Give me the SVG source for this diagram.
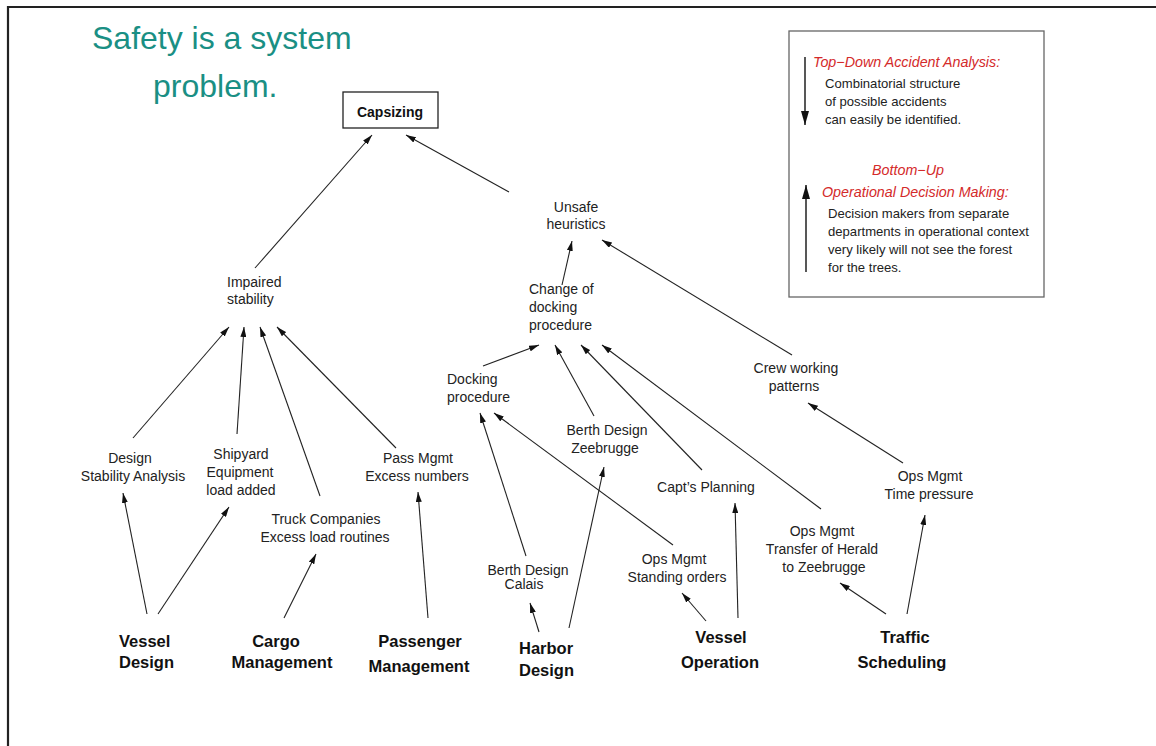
<svg xmlns="http://www.w3.org/2000/svg" width="1156" height="746" viewBox="0 0 1156 746">
<style>
.t{font-family:"Liberation Sans",Arial,sans-serif;font-size:14px;fill:#222}
.l{font-family:"Liberation Sans",Arial,sans-serif;font-size:13.1px;fill:#222}
.b{font-family:"Liberation Sans",Arial,sans-serif;font-size:16.5px;font-weight:bold;fill:#111}
.r{font-family:"Liberation Sans",Arial,sans-serif;font-size:14.3px;font-style:italic;fill:#d42a2a}
.c{text-anchor:middle}
.e{stroke:#222;stroke-width:1.1;fill:none;marker-end:url(#ah)}
.le{stroke:#111;stroke-width:1.4;fill:none;marker-end:url(#bh)}
</style>
<defs>
<marker id="ah" viewBox="0 0 10 6" refX="10" refY="3" markerWidth="10" markerHeight="6" orient="auto" markerUnits="userSpaceOnUse"><path d="M0,0 L10,3 L0,6 z" fill="#111"/></marker>
<marker id="bh" viewBox="0 0 14 8" refX="14" refY="4" markerWidth="14" markerHeight="8" orient="auto" markerUnits="userSpaceOnUse"><path d="M0,0 L14,4 L0,8 z" fill="#111"/></marker>
</defs>
<rect width="1156" height="746" fill="#fff"/>
<path d="M8,746 L8,7 L1156,7" stroke="#222" stroke-width="2.2" fill="none"/>
<g id="title" font-family="'Liberation Sans',Arial,sans-serif" font-size="32" fill="#1a8f84">
<text x="92" y="49">Safety is a system</text>
<text x="153" y="97">problem.</text>
</g>
<g id="legend">
<rect x="789" y="31" width="255" height="266" fill="none" stroke="#666" stroke-width="1.3"/>
<line class="le" x1="805" y1="57" x2="805" y2="125"/>
<text class="r" x="813" y="67">Top−Down Accident Analysis:</text>
<text class="l" x="825" y="88">Combinatorial structure</text>
<text class="l" x="825" y="106">of possible accidents</text>
<text class="l" x="825" y="124">can easily be identified.</text>
<line class="le" x1="806" y1="272" x2="806" y2="185"/>
<text class="r c" x="908" y="175">Bottom−Up</text>
<text class="r" x="822" y="197">Operational Decision Making:</text>
<text class="l" x="828" y="218">Decision makers from separate</text>
<text class="l" x="828" y="236">departments in operational context</text>
<text class="l" x="828" y="254">very likely will not see the forest</text>
<text class="l" x="828" y="272">for the trees.</text>
</g>
<g id="capsizing">
<rect x="343" y="92" width="95" height="36" fill="#fff" stroke="#222" stroke-width="1.3"/>
<text class="b c" x="390" y="117" style="font-size:14px">Capsizing</text>
</g>
<g id="unsafe"><text class="t c" x="576" y="212">Unsafe</text><text class="t c" x="576" y="229">heuristics</text></g>
<g id="impaired"><text class="t" x="227" y="287">Impaired</text><text class="t" x="227" y="304">stability</text></g>
<g id="change"><text class="t" x="529" y="294">Change of</text><text class="t" x="529" y="312">docking</text><text class="t" x="529" y="330">procedure</text></g>
<g id="docking"><text class="t" x="447" y="384">Docking</text><text class="t" x="447" y="402">procedure</text></g>
<g id="crew"><text class="t c" x="796" y="373">Crew working</text><text class="t c" x="794" y="391">patterns</text></g>
<g id="berthZ"><text class="t c" x="607" y="435">Berth Design</text><text class="t c" x="605" y="453">Zeebrugge</text></g>
<g id="design"><text class="t c" x="130" y="463">Design</text><text class="t c" x="133" y="481">Stability Analysis</text></g>
<g id="shipyard"><text class="t c" x="241" y="459">Shipyard</text><text class="t c" x="240" y="477">Equipment</text><text class="t c" x="241" y="495">load added</text></g>
<g id="pass"><text class="t c" x="418" y="463">Pass Mgmt</text><text class="t c" x="417" y="481">Excess numbers</text></g>
<g id="truck"><text class="t c" x="326" y="524">Truck Companies</text><text class="t c" x="325" y="542">Excess load routines</text></g>
<g id="capt"><text class="t c" x="706" y="492">Capt’s Planning</text></g>
<g id="timep"><text class="t c" x="930" y="481">Ops Mgmt</text><text class="t c" x="929" y="499">Time pressure</text></g>
<g id="transfer"><text class="t c" x="822" y="536">Ops Mgmt</text><text class="t c" x="822" y="554">Transfer of Herald</text><text class="t c" x="824" y="572">to Zeebrugge</text></g>
<g id="standing"><text class="t c" x="674" y="564">Ops Mgmt</text><text class="t c" x="677" y="582">Standing orders</text></g>
<g id="berthC"><text class="t c" x="528" y="575">Berth Design</text><text class="t c" x="524" y="589">Calais</text></g>
<g id="vesselDesign"><text class="b" x="119" y="647">Vessel</text><text class="b" x="119" y="668">Design</text></g>
<g id="cargo"><text class="b c" x="276" y="647">Cargo</text><text class="b c" x="282" y="668">Management</text></g>
<g id="passenger"><text class="b c" x="420" y="647">Passenger</text><text class="b c" x="419" y="672">Management</text></g>
<g id="harbor"><text class="b" x="519" y="654">Harbor</text><text class="b" x="519" y="676">Design</text></g>
<g id="vesselOp"><text class="b c" x="721" y="643">Vessel</text><text class="b c" x="720" y="668">Operation</text></g>
<g id="traffic"><text class="b c" x="905" y="643">Traffic</text><text class="b c" x="902" y="668">Scheduling</text></g>
<g id="connectors">
<line class="e" x1="255" y1="268" x2="372" y2="135"/>
<line class="e" x1="509" y1="192" x2="406" y2="135"/>
<line class="e" x1="562" y1="285" x2="572" y2="241"/>
<line class="e" x1="792" y1="355" x2="602" y2="240"/>
<line class="e" x1="483" y1="366" x2="539" y2="345"/>
<line class="e" x1="594" y1="416" x2="555" y2="345"/>
<line class="e" x1="702" y1="470" x2="581" y2="345"/>
<line class="e" x1="821" y1="509" x2="602" y2="345"/>
<line class="e" x1="673" y1="545" x2="494" y2="413"/>
<line class="e" x1="526" y1="556" x2="480" y2="413"/>
<line class="e" x1="539" y1="632" x2="530" y2="603"/>
<line class="e" x1="569" y1="628" x2="604" y2="467"/>
<line class="e" x1="706" y1="621" x2="682" y2="593"/>
<line class="e" x1="738" y1="618" x2="735" y2="503"/>
<line class="e" x1="886" y1="614" x2="840" y2="583"/>
<line class="e" x1="907" y1="614" x2="925" y2="515"/>
<line class="e" x1="903" y1="463" x2="808" y2="403"/>
<line class="e" x1="133" y1="438" x2="229" y2="327"/>
<line class="e" x1="237" y1="434" x2="244" y2="327"/>
<line class="e" x1="320" y1="496" x2="260" y2="327"/>
<line class="e" x1="396" y1="448" x2="277" y2="327"/>
<line class="e" x1="147" y1="614" x2="123" y2="493"/>
<line class="e" x1="158" y1="614" x2="229" y2="507"/>
<line class="e" x1="284" y1="618" x2="316" y2="554"/>
<line class="e" x1="428" y1="618" x2="418" y2="492"/>
</g>
</svg>
